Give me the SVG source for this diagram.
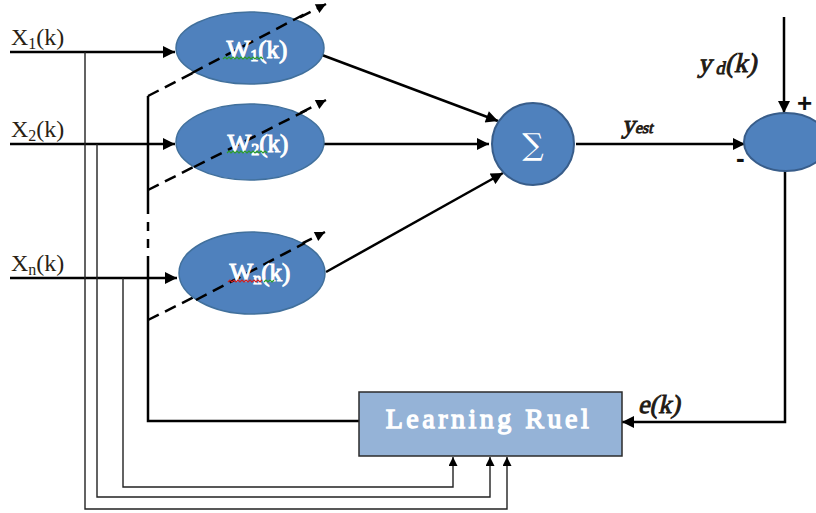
<svg xmlns="http://www.w3.org/2000/svg" width="816" height="513" viewBox="0 0 816 513">
<defs>
<marker id="ah" viewBox="0 0 10 10" refX="10" refY="5" markerWidth="14" markerHeight="12" markerUnits="userSpaceOnUse" orient="auto"><path d="M0,0 L10,5 L0,10 z" fill="#000"/></marker>
<marker id="ahs" viewBox="0 0 10 10" refX="10" refY="5" markerWidth="12" markerHeight="10" markerUnits="userSpaceOnUse" orient="auto"><path d="M0,0 L10,5 L0,10 z" fill="#000"/></marker>
<marker id="aht" viewBox="0 0 10 10" refX="10" refY="5" markerWidth="12" markerHeight="9" markerUnits="userSpaceOnUse" orient="auto"><path d="M0,0 L10,5 L0,10 z" fill="#000"/></marker>
<style>
.node{fill:#4F81BD;stroke:#41709C;stroke-width:1.5}
.thick{fill:none;stroke:#000;stroke-width:2.5}
.thin{fill:none;stroke:#222;stroke-width:1.4}
.dash{fill:none;stroke:#000;stroke-width:2.5;stroke-dasharray:12 7}
.lbl{font-family:"Liberation Serif",serif;font-size:24px;fill:#2a1f14}
.wl{font-family:"Liberation Serif",serif;font-size:25px;fill:#fff;stroke:#fff;stroke-width:1;text-anchor:middle}
.it{font-family:"Liberation Serif",serif;fill:#1f1a14;stroke:#1f1a14;stroke-width:0.9}
.pm{font-family:"Liberation Sans",sans-serif;font-weight:700;font-size:26px;fill:#111}
.sq{fill:none;stroke-width:1.2}
</style>
</defs>
<rect width="816" height="513" fill="#fff"/>

<g id="connectors">
<line class="thick" x1="10" y1="52" x2="175" y2="52" marker-end="url(#ah)"/>
<line class="thick" x1="10" y1="144" x2="175" y2="144" marker-end="url(#ah)"/>
<line class="thick" x1="10" y1="278" x2="177" y2="278" marker-end="url(#ah)"/>
<line class="thick" x1="322" y1="55" x2="498" y2="121" marker-end="url(#ah)"/>
<line class="thick" x1="324" y1="144" x2="489" y2="144" marker-end="url(#ah)"/>
<line class="thick" x1="326" y1="272" x2="503" y2="173" marker-end="url(#ah)"/>
<line class="thick" x1="576" y1="144" x2="745" y2="144" marker-end="url(#ah)"/>
<line class="thick" x1="784" y1="17" x2="784" y2="113" marker-end="url(#ah)"/>
<polyline class="thick" points="785,171 785,422 622,422" marker-end="url(#ah)"/>
<polyline class="thick" points="359,421 148,421 148,265"/>
<line class="dash" x1="148" y1="265" x2="148" y2="213" style="stroke-dasharray:9 8"/>
<line class="thick" x1="148" y1="213" x2="148" y2="96"/>
<line class="dash" x1="148" y1="96" x2="326" y2="4" marker-end="url(#ahs)"/>
<line class="dash" x1="148" y1="190" x2="326" y2="100" marker-end="url(#ahs)"/>
<line class="dash" x1="148" y1="320" x2="325" y2="232" marker-end="url(#ahs)"/>
<polyline class="thin" points="85,52 85,509 507,509 507,457" marker-end="url(#aht)"/>
<polyline class="thin" points="97,144 97,497 490,497 490,457" marker-end="url(#aht)"/>
<polyline class="thin" points="123,278 123,487 453,487 453,457" marker-end="url(#aht)"/>
</g>

<g id="x1"><text class="lbl" x="11" y="45">X<tspan font-size="16" dy="4">1</tspan><tspan dy="-4">(k)</tspan></text></g>
<g id="x2"><text class="lbl" x="11" y="137">X<tspan font-size="16" dy="4">2</tspan><tspan dy="-4">(k)</tspan></text></g>
<g id="xn"><text class="lbl" x="11" y="271">X<tspan font-size="16" dy="4">n</tspan><tspan dy="-4">(k)</tspan></text></g>

<g id="w1">
<ellipse class="node" cx="250" cy="48" rx="74" ry="36"/>
<line class="dash" x1="192" y1="73" x2="305" y2="14"/>
<text class="wl" x="257" y="58">W<tspan font-size="16" dy="3">1</tspan><tspan dy="-3">(k)</tspan></text>
<path class="sq" stroke="#2a9d2a" d="M223,59 l2,-2 l2,2 l2,-2 l2,2 l2,-2 l2,2 l2,-2 l2,2 l2,-2 l2,2 l2,-2 l2,2 l2,-2 l2,2 l2,-2 l2,2 l2,-2 l2,2 l2,-2 l2,2"/>
</g>
<g id="w2">
<ellipse class="node" cx="250" cy="142" rx="74" ry="38"/>
<line class="dash" x1="194" y1="167" x2="307" y2="110"/>
<text class="wl" x="258" y="152">W<tspan font-size="16" dy="3">2</tspan><tspan dy="-3">(k)</tspan></text>
<path class="sq" stroke="#2a9d2a" d="M227,153 l2,-2 l2,2 l2,-2 l2,2 l2,-2 l2,2 l2,-2 l2,2 l2,-2 l2,2 l2,-2 l2,2 l2,-2 l2,2 l2,-2 l2,2 l2,-2 l2,2 l2,-2 l2,2"/>
</g>
<g id="wn">
<ellipse class="node" cx="252" cy="273" rx="73" ry="41"/>
<line class="dash" x1="196" y1="300" x2="305" y2="243"/>
<text class="wl" x="260" y="281">W<tspan font-size="16" dy="3">n</tspan><tspan dy="-3">(k)</tspan></text>
<path class="sq" stroke="#d02020" d="M228,282 l2,-2 l2,2 l2,-2 l2,2 l2,-2 l2,2 l2,-2 l2,2 l2,-2 l2,2 l2,-2 l2,2 l2,-2 l2,2 l2,-2 l2,2 l2,-2"/>
<path class="sq" stroke="#2a9d2a" d="M264,282 l2,-2 l2,2 l2,-2 l2,2 l2,-2"/>
</g>

<g id="sum">
<circle cx="533" cy="144" r="41" fill="#4F81BD" stroke="#385D8A" stroke-width="2"/>
<text x="533" y="155" font-family="'DejaVu Serif','Liberation Serif',serif" font-size="30" fill="#fff" text-anchor="middle">∑</text>
</g>

<g id="error">
<ellipse cx="786" cy="142" rx="42" ry="29" fill="#4F81BD" stroke="#385D8A" stroke-width="2"/>
<text class="pm" x="797" y="112">+</text>
<text class="pm" x="736" y="167">-</text>
</g>

<g id="yest" transform="translate(622,133) skewX(-12)"><text class="it" x="0" y="0" font-size="26">y<tspan font-size="16">est</tspan></text></g>
<g id="yd" transform="translate(698,72) skewX(-12)"><text class="it" x="0" y="0" font-size="27">y<tspan font-size="18" dy="2"> d</tspan><tspan dy="-2">(k)</tspan></text></g>
<g id="ek" transform="translate(638,413) skewX(-12)"><text class="it" x="0" y="0" font-size="26">e(k)</text></g>

<g id="learning">
<rect x="359" y="392" width="263" height="64" fill="#95B3D7" stroke="#2b2b2b" stroke-width="1.5"/>
<text x="489" y="428" font-family="'Liberation Serif',serif" font-size="28" fill="#fff" stroke="#fff" stroke-width="1.3" text-anchor="middle" letter-spacing="3.5">Learning Ruel</text>
</g>
</svg>
